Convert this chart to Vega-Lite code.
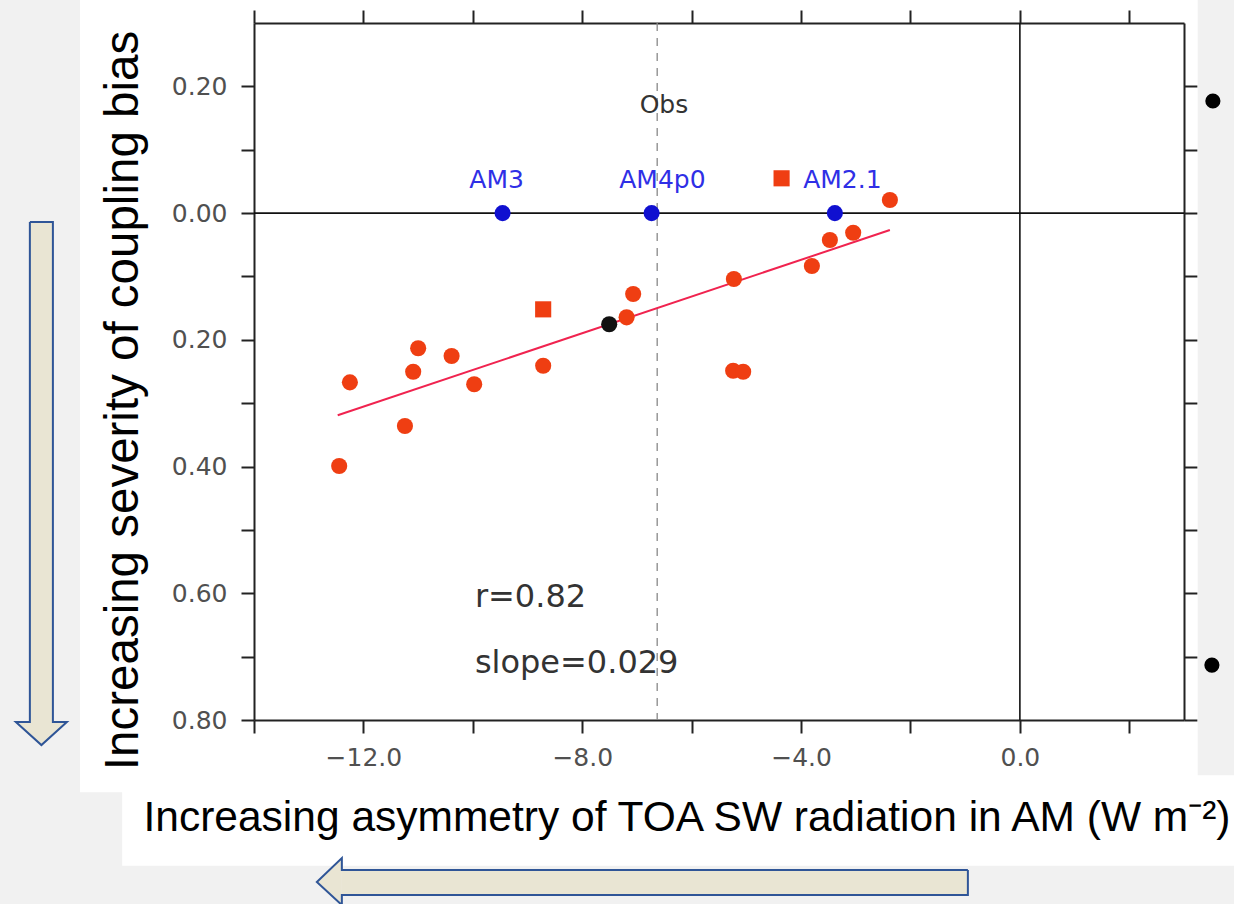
{
  "$schema": "https://vega.github.io/schema/vega-lite/v6.json",
  "width": 930,
  "height": 697,
  "autosize": {"type": "none"},
  "padding": {"left": 254, "top": 23, "right": 50, "bottom": 184},
  "background": "#ffffff",
  "config": {
    "view": {"stroke": null},
    "axis": {
      "grid": false,
      "domainColor": "#222222",
      "domainWidth": 2,
      "tickColor": "#222222",
      "tickWidth": 2,
      "tickSize": 13,
      "labelFont": "DejaVu Sans",
      "labelFontSize": 25,
      "labelColor": "#505050",
      "labelOverlap": false,
      "labelFlush": false,
      "labelBound": false,
      "titleFont": "Liberation Sans",
      "titleFontWeight": "normal",
      "titleColor": "#000000"
    }
  },
  "datasets": {
    "bg": [
      {"x": -19, "x2": -17.18, "y": 0.34, "y2": -1.1},
      {"x": -19, "x2": -16.41, "y": -0.914, "y2": -1.1},
      {"x": -19, "x2": 4.0, "y": -1.03, "y2": -1.1},
      {"x": 3.25, "x2": 4.0, "y": 0.34, "y2": -0.887}
    ],
    "shafts": [
      {"arrow": "down", "x": -18.097, "x2": -17.676, "y": -0.0141, "y2": -0.8032},
      {"arrow": "left", "x": -12.394, "x2": -0.9505, "y": -1.0368, "y2": -1.0763}
    ],
    "heads": [
      {"arrow": "down", "x": -18.353, "ya": -0.8032, "yb": -0.8032},
      {"arrow": "down", "x": -17.886, "ya": -0.8032, "yb": -0.8395},
      {"arrow": "down", "x": -17.421, "ya": -0.8032, "yb": -0.8032},
      {"arrow": "left", "x": -12.851, "ya": -1.0557, "yb": -1.0557},
      {"arrow": "left", "x": -12.394, "ya": -1.0179, "yb": -1.092}
    ],
    "outlines": [
      {"arrow": "down", "o": 1, "x": -18.097, "y": -0.0141},
      {"arrow": "down", "o": 2, "x": -18.097, "y": -0.8032},
      {"arrow": "down", "o": 3, "x": -18.353, "y": -0.8032},
      {"arrow": "down", "o": 4, "x": -17.886, "y": -0.8395},
      {"arrow": "down", "o": 5, "x": -17.421, "y": -0.8032},
      {"arrow": "down", "o": 6, "x": -17.676, "y": -0.8032},
      {"arrow": "down", "o": 7, "x": -17.676, "y": -0.0141},
      {"arrow": "down", "o": 8, "x": -18.097, "y": -0.0141},
      {"arrow": "left", "o": 1, "x": -0.9505, "y": -1.0368},
      {"arrow": "left", "o": 2, "x": -12.394, "y": -1.0368},
      {"arrow": "left", "o": 3, "x": -12.394, "y": -1.0179},
      {"arrow": "left", "o": 4, "x": -12.851, "y": -1.0557},
      {"arrow": "left", "o": 5, "x": -12.394, "y": -1.092},
      {"arrow": "left", "o": 6, "x": -12.394, "y": -1.0763},
      {"arrow": "left", "o": 7, "x": -0.9505, "y": -1.0763},
      {"arrow": "left", "o": 8, "x": -0.9505, "y": -1.0368}
    ],
    "bullets": [
      {"x": 3.528, "y": 0.1769},
      {"x": 3.51, "y": -0.7133}
    ],
    "zero": [{"v": 0}],
    "obsline": [{"v": -6.63}],
    "fit": [
      {"x": -12.47, "y": -0.319},
      {"x": -2.376, "y": -0.0267}
    ],
    "models": [
      {"x": -4.356, "y": 0.0549, "group": "B"},
      {"x": -2.376, "y": 0.0206, "group": "A"},
      {"x": -3.473, "y": -0.0425, "group": "A"},
      {"x": -3.047, "y": -0.031, "group": "A"},
      {"x": -3.802, "y": -0.0835, "group": "A"},
      {"x": -5.228, "y": -0.104, "group": "A"},
      {"x": -7.069, "y": -0.1277, "group": "A"},
      {"x": -7.189, "y": -0.1645, "group": "A"},
      {"x": -8.714, "y": -0.1519, "group": "B"},
      {"x": -8.714, "y": -0.2409, "group": "A"},
      {"x": -10.999, "y": -0.2134, "group": "A"},
      {"x": -10.388, "y": -0.2256, "group": "A"},
      {"x": -11.09, "y": -0.2503, "group": "A"},
      {"x": -12.247, "y": -0.2671, "group": "A"},
      {"x": -9.975, "y": -0.2702, "group": "A"},
      {"x": -11.241, "y": -0.336, "group": "A"},
      {"x": -12.443, "y": -0.3992, "group": "A"},
      {"x": -5.241, "y": -0.2488, "group": "A"},
      {"x": -5.058, "y": -0.2503, "group": "A"}
    ],
    "gfdl": [
      {"x": -9.456, "y": 0, "name": "AM3", "lx": -9.566},
      {"x": -6.732, "y": 0, "name": "AM4p0", "lx": -6.535},
      {"x": -3.382, "y": 0, "name": "AM2.1", "lx": -3.245}
    ],
    "ens": [{"x": -7.507, "y": -0.1755}],
    "notes": [
      {"x": -6.507, "y": 0.1584, "text": "Obs"}
    ],
    "stats": [
      {"x": -9.962, "y": -0.6217, "text": "r=0.82"},
      {"x": -9.962, "y": -0.7259, "text": "slope=0.029"}
    ]
  },
  "layer": [
    {
      "data": {"name": "bg"},
      "mark": {"type": "rect", "fill": "#f1f1f1"},
      "encoding": {
        "x": {"field": "x", "type": "quantitative", "scale": {"domain": [-14, 3], "nice": false, "zero": false}, "axis": null},
        "x2": {"field": "x2"},
        "y": {"field": "y", "type": "quantitative", "scale": {"domain": [-0.8, 0.3], "nice": false, "zero": false}, "axis": null},
        "y2": {"field": "y2"}
      }
    },
    {
      "data": {"name": "shafts"},
      "mark": {"type": "rect", "fill": "#e9e5d3"},
      "encoding": {
        "x": {"field": "x", "type": "quantitative", "scale": {"domain": [-14, 3], "nice": false, "zero": false}, "axis": null},
        "x2": {"field": "x2"},
        "y": {"field": "y", "type": "quantitative", "scale": {"domain": [-0.8, 0.3], "nice": false, "zero": false}, "axis": null},
        "y2": {"field": "y2"}
      }
    },
    {
      "data": {"name": "heads"},
      "mark": {"type": "area", "orient": "vertical", "fill": "#e9e5d3"},
      "encoding": {
        "x": {"field": "x", "type": "quantitative", "scale": {"domain": [-14, 3], "nice": false, "zero": false}, "axis": null},
        "y": {"field": "ya", "type": "quantitative", "scale": {"domain": [-0.8, 0.3], "nice": false, "zero": false}, "axis": null},
        "y2": {"field": "yb"},
        "detail": {"field": "arrow"}
      }
    },
    {
      "data": {"name": "outlines"},
      "mark": {"type": "line", "stroke": "#2f5597", "strokeWidth": 2},
      "encoding": {
        "x": {"field": "x", "type": "quantitative", "scale": {"domain": [-14, 3], "nice": false, "zero": false}, "axis": null},
        "y": {"field": "y", "type": "quantitative", "scale": {"domain": [-0.8, 0.3], "nice": false, "zero": false}, "axis": null},
        "detail": {"field": "arrow"},
        "order": {"field": "o", "type": "quantitative"}
      }
    },
    {
      "data": {"name": "bullets"},
      "mark": {"type": "point", "filled": true, "color": "#000000", "opacity": 1, "size": 230},
      "encoding": {
        "x": {"field": "x", "type": "quantitative", "scale": {"domain": [-14, 3], "nice": false, "zero": false}, "axis": null},
        "y": {"field": "y", "type": "quantitative", "scale": {"domain": [-0.8, 0.3], "nice": false, "zero": false}, "axis": null}
      }
    },
    {
      "data": {"name": "zero"},
      "mark": {"type": "rule", "color": "#111111", "strokeWidth": 1.6},
      "encoding": {
        "y": {"field": "v", "type": "quantitative", "scale": {"domain": [-0.8, 0.3], "nice": false, "zero": false}, "axis": null}
      }
    },
    {
      "data": {"name": "zero"},
      "mark": {"type": "rule", "color": "#111111", "strokeWidth": 1.6},
      "encoding": {
        "x": {"field": "v", "type": "quantitative", "scale": {"domain": [-14, 3], "nice": false, "zero": false}, "axis": null}
      }
    },
    {
      "data": {"name": "obsline"},
      "mark": {"type": "rule", "color": "#888888", "strokeWidth": 1.3, "strokeDash": [8, 7]},
      "encoding": {
        "x": {"field": "v", "type": "quantitative", "scale": {"domain": [-14, 3], "nice": false, "zero": false}, "axis": null}
      }
    },
    {
      "data": {"name": "fit"},
      "mark": {"type": "line", "color": "#f0234f", "strokeWidth": 2},
      "encoding": {
        "x": {"field": "x", "type": "quantitative", "scale": {"domain": [-14, 3], "nice": false, "zero": false},
          "axis": {"orient": "top", "values": [-14, -12, -10, -8, -6, -4, -2, 0, 2], "labels": false, "title": null}},
        "y": {"field": "y", "type": "quantitative", "scale": {"domain": [-0.8, 0.3], "nice": false, "zero": false},
          "axis": {"orient": "right", "values": [-0.8, -0.7, -0.6, -0.5, -0.4, -0.3, -0.2, -0.1, 0, 0.1, 0.2], "labels": false, "title": null}}
      }
    },
    {
      "data": {"name": "models"},
      "mark": {"type": "point", "filled": true, "color": "#ef3e12", "opacity": 1, "size": 260},
      "encoding": {
        "x": {"field": "x", "type": "quantitative", "scale": {"domain": [-14, 3], "nice": false, "zero": false},
          "axis": {"orient": "bottom", "values": [-14, -12, -10, -8, -6, -4, -2, 0, 2],
            "labelExpr": "datum.value % 4 === 0 ? format(datum.value, '.1f') : ''",
            "labelPadding": 12,
            "title": "Increasing asymmetry of TOA SW radiation in AM (W m⁻²)",
            "titleFontSize": 42.5, "titleX": -111, "titleY": 110, "titleAlign": "left", "titleBaseline": "alphabetic", "titleAnchor": "start"}},
        "y": {"field": "y", "type": "quantitative", "scale": {"domain": [-0.8, 0.3], "nice": false, "zero": false},
          "axis": {"orient": "left", "values": [-0.8, -0.7, -0.6, -0.5, -0.4, -0.3, -0.2, -0.1, 0, 0.1, 0.2],
            "labelExpr": "abs(round(datum.value * 10)) % 2 === 0 ? format(abs(datum.value), '.2f') : ''",
            "labelPadding": 14,
            "title": "Increasing severity of coupling bias",
            "titleFontSize": 47.5, "titleX": -117, "titleY": 377, "titleAngle": 270, "titleAlign": "center", "titleBaseline": "alphabetic"}},
        "shape": {"field": "group", "type": "nominal", "scale": {"domain": ["A", "B"], "range": ["circle", "square"]}, "legend": null}
      }
    },
    {
      "data": {"name": "gfdl"},
      "mark": {"type": "point", "filled": true, "color": "#1010d0", "opacity": 1, "size": 260},
      "encoding": {
        "x": {"field": "x", "type": "quantitative", "scale": {"domain": [-14, 3], "nice": false, "zero": false}, "axis": null},
        "y": {"field": "y", "type": "quantitative", "scale": {"domain": [-0.8, 0.3], "nice": false, "zero": false}, "axis": null}
      }
    },
    {
      "data": {"name": "ens"},
      "mark": {"type": "point", "filled": true, "color": "#111111", "opacity": 1, "size": 260},
      "encoding": {
        "x": {"field": "x", "type": "quantitative", "scale": {"domain": [-14, 3], "nice": false, "zero": false}, "axis": null},
        "y": {"field": "y", "type": "quantitative", "scale": {"domain": [-0.8, 0.3], "nice": false, "zero": false}, "axis": null}
      }
    },
    {
      "data": {"name": "gfdl"},
      "mark": {"type": "text", "font": "DejaVu Sans", "fontSize": 25, "color": "#2f2fe6", "align": "center", "baseline": "alphabetic"},
      "encoding": {
        "x": {"field": "lx", "type": "quantitative", "scale": {"domain": [-14, 3], "nice": false, "zero": false}, "axis": null},
        "y": {"value": 165},
        "text": {"field": "name"}
      }
    },
    {
      "data": {"name": "notes"},
      "mark": {"type": "text", "font": "DejaVu Sans", "fontSize": 25, "color": "#333333", "align": "center", "baseline": "alphabetic"},
      "encoding": {
        "x": {"field": "x", "type": "quantitative", "scale": {"domain": [-14, 3], "nice": false, "zero": false}, "axis": null},
        "y": {"field": "y", "type": "quantitative", "scale": {"domain": [-0.8, 0.3], "nice": false, "zero": false}, "axis": null},
        "text": {"field": "text"}
      }
    },
    {
      "data": {"name": "stats"},
      "mark": {"type": "text", "font": "DejaVu Sans", "fontSize": 32, "color": "#333333", "align": "left", "baseline": "alphabetic"},
      "encoding": {
        "x": {"field": "x", "type": "quantitative", "scale": {"domain": [-14, 3], "nice": false, "zero": false}, "axis": null},
        "y": {"field": "y", "type": "quantitative", "scale": {"domain": [-0.8, 0.3], "nice": false, "zero": false}, "axis": null},
        "text": {"field": "text"}
      }
    }
  ],
  "resolve": {"axis": {"x": "independent", "y": "independent"}}
}
